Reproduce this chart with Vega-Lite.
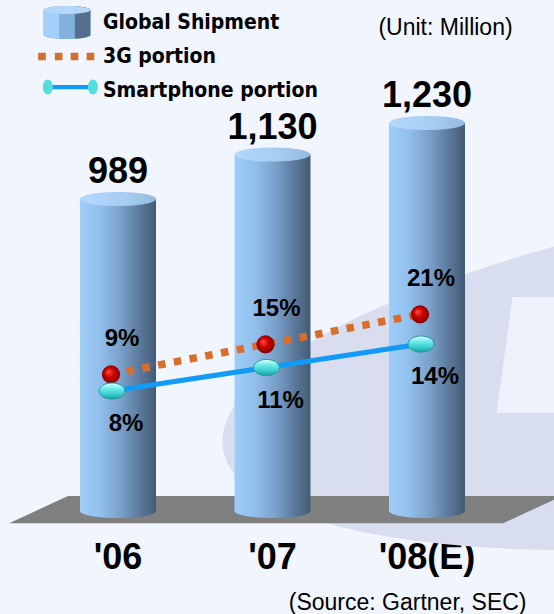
{
  "$schema": "https://vega.github.io/schema/vega-lite/v6.json",
  "width": 554,
  "height": 524,
  "autosize": {"type": "none"},
  "padding": {"left": 0, "top": 0, "right": 0, "bottom": 90},
  "background": "#f1f5fd",
  "config": {
    "view": {"stroke": null},
    "legend": {"orient": "none", "legendX": 50, "legendY": 5.5, "direction": "vertical", "title": null,
      "symbolSize": 1156, "symbolStrokeWidth": 0, "symbolOpacity": 1, "labelOffset": 19, "rowPadding": 0, "padding": 0, "labelLimit": 400,
      "labelFont": "DejaVu Sans Condensed", "labelFontSize": 21, "labelFontWeight": "bold", "labelColor": "#000000", "labelBaseline": "middle"}
  },
  "data": {"values": [
    {"year": "'06", "shipment": 989, "g3": 0.09, "sp": 0.08},
    {"year": "'07", "shipment": 1130, "g3": 0.15, "sp": 0.11},
    {"year": "'08(E)", "shipment": 1230, "g3": 0.21, "sp": 0.14}
  ]},
  "encoding": {
    "x": {"field": "year", "type": "nominal", "sort": null,
      "scale": {"type": "band", "domain": ["'06", "'07", "'08(E)"], "range": [40.75, 504.25], "paddingInner": 0.508, "paddingOuter": 0.254},
      "axis": {"orient": "bottom", "title": "(Source: Gartner, SEC)", "domain": false, "ticks": false, "grid": false,
        "labelFont": "Liberation Sans", "labelFontSize": 36, "labelFontWeight": "bold", "labelColor": "#000000",
        "labelPadding": 16, "labelAngle": 0, "labelOverlap": false,
        "titleFont": "Liberation Sans", "titleFontSize": 23, "titleFontWeight": "normal", "titleColor": "#000000",
        "titleX": 526, "titleY": 85, "titleAlign": "right", "titleBaseline": "alphabetic"}}
  },
  "resolve": {
    "scale": {"y": "independent", "fill": "independent", "shape": "independent"},
    "legend": {"fill": "independent", "shape": "independent"}
  },
  "layer": [
    {
      "transform": [{"filter": "datum.year === \"'08(E)\""}],
      "mark": {"type": "point", "filled": true, "opacity": 1, "color": "#d8ddef", "size": 4000000,
        "shape": "M1.0275,-0.2307 C1.0275,-0.1363 0.7517,-0.0236 0.4115,0.021 C0.0713,0.0656 -0.2045,0.0251 -0.2045,-0.0693 C-0.2045,-0.1637 0.0713,-0.2764 0.4115,-0.321 C0.7517,-0.3656 1.0275,-0.3251 1.0275,-0.2307 Z"},
      "encoding": {
        "y": {"datum": 0, "type": "quantitative", "scale": {"domain": [-41.2, 1620.2], "zero": false, "nice": false}, "axis": null}
      }
    },
    {
      "transform": [{"filter": "datum.year === \"'08(E)\""}],
      "mark": {"type": "point", "filled": true, "opacity": 1, "color": "#edf1fb", "size": 160000,
        "shape": "M0.4275,-1.07 L0.7,-1.07 L0.7,-0.49 L0.3475,-0.49 Z"},
      "encoding": {
        "y": {"datum": 0, "type": "quantitative", "scale": {"domain": [-41.2, 1620.2], "zero": false, "nice": false}, "axis": null}
      }
    },
    {
      "transform": [{"filter": "datum.year === \"'07\""}],
      "mark": {"type": "point", "filled": true, "opacity": 1, "color": "#808080", "size": 360000,
        "shape": "M-0.878,0.041 L-0.682,-0.05 L0.965,-0.05 L0.768,0.041 Z"},
      "encoding": {
        "y": {"datum": 0, "type": "quantitative", "scale": {"domain": [-41.2, 1620.2], "zero": false, "nice": false}, "axis": null}
      }
    },
    {
      "mark": {"type": "point", "filled": true, "opacity": 1, "size": 5776,
        "shape": "M-1,0 A1,0.184 0 1,0 1,0 A1,0.184 0 1,0 -1,0 Z",
        "color": {"gradient": "linear", "x1": 0, "y1": 0, "x2": 1, "y2": 0, "stops": [
          {"offset": 0, "color": "#9ecdf8"}, {"offset": 0.25, "color": "#93c1ee"}, {"offset": 0.55, "color": "#789fc8"}, {"offset": 0.8, "color": "#5a7799"}, {"offset": 1, "color": "#455b75"}]}},
      "encoding": {
        "y": {"datum": 0, "type": "quantitative", "scale": {"domain": [-41.2, 1620.2], "zero": false, "nice": false}, "axis": null}
      }
    },
    {
      "mark": {"type": "bar",
        "color": {"gradient": "linear", "x1": 0, "y1": 0, "x2": 1, "y2": 0, "stops": [
          {"offset": 0, "color": "#9ecdf8"}, {"offset": 0.25, "color": "#93c1ee"}, {"offset": 0.55, "color": "#789fc8"}, {"offset": 0.8, "color": "#5a7799"}, {"offset": 1, "color": "#455b75"}]}},
      "encoding": {
        "y": {"field": "shipment", "type": "quantitative", "scale": {"domain": [-41.2, 1620.2], "zero": false, "nice": false},
          "axis": {"orient": "right", "title": "(Unit: Million)", "labels": false, "ticks": false, "domain": false, "grid": false,
            "titleAngle": 0, "titleX": -109, "titleY": 27, "titleAlign": "center", "titleBaseline": "middle",
            "titleFont": "Liberation Sans", "titleFontSize": 23, "titleFontWeight": "normal", "titleColor": "#000000"}},
        "y2": {"datum": 0}
      }
    },
    {
      "mark": {"type": "point", "filled": true, "opacity": 1, "size": 5776,
        "shape": "M-1,0 A1,0.184 0 1,0 1,0 A1,0.184 0 1,0 -1,0 Z",
        "color": {"gradient": "linear", "x1": 0, "y1": 0, "x2": 1, "y2": 0, "stops": [
          {"offset": 0, "color": "#b4d9fc"}, {"offset": 0.6, "color": "#a6ccf2"}, {"offset": 1, "color": "#93badf"}]}},
      "encoding": {
        "y": {"field": "shipment", "type": "quantitative", "scale": {"domain": [-41.2, 1620.2], "zero": false, "nice": false}, "axis": null}
      }
    },
    {
      "mark": {"type": "text", "font": "Liberation Sans", "fontSize": 36, "fontWeight": "bold", "color": "#000000", "align": "center", "baseline": "alphabetic", "dy": -16},
      "encoding": {
        "y": {"field": "shipment", "type": "quantitative", "scale": {"domain": [-41.2, 1620.2], "zero": false, "nice": false}, "axis": null},
        "text": {"field": "shipment", "type": "quantitative", "format": ","}
      }
    },
    {
      "mark": {"type": "line", "color": "#d96e2c", "strokeWidth": 7.5, "strokeDash": [7.5, 8.5], "strokeCap": "butt", "xOffset": -7},
      "encoding": {
        "y": {"field": "g3", "type": "quantitative", "scale": {"domain": [-0.2094, 0.8386], "zero": false, "nice": false}, "axis": null}
      }
    },
    {
      "mark": {"type": "line", "color": "#129bf6", "strokeWidth": 5, "xOffset": -6},
      "encoding": {
        "y": {"field": "sp", "type": "quantitative", "scale": {"domain": [-0.0898, 0.5792], "zero": false, "nice": false}, "axis": null}
      }
    },
    {
      "mark": {"type": "point", "shape": "circle", "filled": true, "opacity": 1, "size": 330, "xOffset": -7,
        "color": {"gradient": "radial", "x1": 0.35, "y1": 0.35, "r1": 0.02, "x2": 0.5, "y2": 0.5, "r2": 0.55, "stops": [
          {"offset": 0, "color": "#ff4a3a"}, {"offset": 0.45, "color": "#cc0000"}, {"offset": 1, "color": "#7a0000"}]}},
      "encoding": {
        "y": {"field": "g3", "type": "quantitative", "scale": {"domain": [-0.2094, 0.8386], "zero": false, "nice": false}, "axis": null}
      }
    },
    {
      "mark": {"type": "point", "filled": true, "opacity": 1, "size": 676, "xOffset": -6,
        "shape": "M-1,0 A1,0.62 0 1,0 1,0 A1,0.62 0 1,0 -1,0 Z",
        "stroke": "#2a9a9a", "strokeWidth": 1,
        "color": {"gradient": "linear", "x1": 0, "y1": 0, "x2": 0, "y2": 1, "stops": [
          {"offset": 0, "color": "#dcffff"}, {"offset": 0.35, "color": "#6eeaea"}, {"offset": 0.7, "color": "#38cdcd"}, {"offset": 1, "color": "#1c9c9c"}]}},
      "encoding": {
        "y": {"field": "sp", "type": "quantitative", "scale": {"domain": [-0.0898, 0.5792], "zero": false, "nice": false}, "axis": null}
      }
    },
    {
      "mark": {"type": "text", "font": "Liberation Sans", "fontSize": 24, "fontWeight": "bold", "color": "#000000", "align": "center", "baseline": "middle", "dx": 4, "dy": -35},
      "encoding": {
        "y": {"field": "g3", "type": "quantitative", "scale": {"domain": [-0.2094, 0.8386], "zero": false, "nice": false}, "axis": null},
        "text": {"field": "g3", "type": "quantitative", "format": ".0%"}
      }
    },
    {
      "mark": {"type": "text", "font": "Liberation Sans", "fontSize": 24, "fontWeight": "bold", "color": "#000000", "align": "center", "baseline": "middle", "dx": 8, "dy": 33},
      "encoding": {
        "y": {"field": "sp", "type": "quantitative", "scale": {"domain": [-0.0898, 0.5792], "zero": false, "nice": false}, "axis": null},
        "text": {"field": "sp", "type": "quantitative", "format": ".0%"}
      }
    },
    {
      "data": {"values": [{"series": "Global Shipment"}, {"series": "3G portion"}, {"series": "Smartphone portion"}]},
      "mark": {"type": "point", "filled": true, "size": 0, "opacity": 1},
      "encoding": {
        "x": {"value": 0},
        "fill": {"field": "series", "type": "nominal",
          "scale": {"domain": ["Global Shipment", "3G portion", "Smartphone portion"], "range": ["#84b0dd", "#d96e2c", "#129bf6"]}},
        "shape": {"field": "series", "type": "nominal",
          "scale": {"domain": ["Global Shipment", "3G portion", "Smartphone portion"],
            "range": [
              "M-1.38,-0.735 A1.38,0.235 0 0,1 1.38,-0.735 L1.38,0.735 A1.38,0.235 0 0,1 -1.38,0.735 Z M0,-0.97 M0,0.97",
              "M-1.695,-0.215 h0.45 v0.43 h-0.45 Z M-0.715,-0.215 h0.45 v0.43 h-0.45 Z M0.215,-0.215 h0.45 v0.43 h-0.45 Z M1.155,-0.215 h0.45 v0.43 h-0.45 Z M0,-0.97 M0,0.97",
              "M-1.126,-0.33 L1.526,-0.33 L1.526,-0.07 L-1.126,-0.07 Z M0,-0.97 M0,0.97"
            ]}}
      }
    },
    {
      "data": {"values": [{"ovb": "b1"}, {"ovb": "b2"}, {"ovb": "b3"}]},
      "mark": {"type": "point", "filled": true, "size": 0, "opacity": 1},
      "encoding": {
        "x": {"value": 0},
        "fill": {"field": "ovb", "type": "nominal", "legend": {"labelExpr": "''"},
          "scale": {"domain": ["b1", "b2", "b3"], "range": ["#a3d0f9", "transparent", "transparent"]}},
        "shape": {"field": "ovb", "type": "nominal", "legend": {"labelExpr": "''"},
          "scale": {"domain": ["b1", "b2", "b3"],
            "range": [
              "M-1.38,-0.735 A1.38,0.235 0 0,1 -0.46,-0.9566 L-0.46,0.9566 A1.38,0.235 0 0,1 -1.38,0.735 Z M0,-0.97 M0,0.97",
              "M0,-0.97 M0,0.97",
              "M0,-0.97 M0,0.97"
            ]}}
      }
    },
    {
      "data": {"values": [{"ovc": "c1"}, {"ovc": "c2"}, {"ovc": "c3"}]},
      "mark": {"type": "point", "filled": true, "size": 0, "opacity": 1},
      "encoding": {
        "x": {"value": 0},
        "fill": {"field": "ovc", "type": "nominal", "legend": {"labelExpr": "''"},
          "scale": {"domain": ["c1", "c2", "c3"], "range": ["#55708f", "transparent", "transparent"]}},
        "shape": {"field": "ovc", "type": "nominal", "legend": {"labelExpr": "''"},
          "scale": {"domain": ["c1", "c2", "c3"],
            "range": [
              "M0.46,-0.9566 A1.38,0.235 0 0,1 1.38,-0.735 L1.38,0.735 A1.38,0.235 0 0,1 0.46,0.9566 Z M0,-0.97 M0,0.97",
              "M0,-0.97 M0,0.97",
              "M0,-0.97 M0,0.97"
            ]}}
      }
    },
    {
      "data": {"values": [{"ova": "a1"}, {"ova": "a2"}, {"ova": "a3"}]},
      "mark": {"type": "point", "filled": true, "size": 0, "opacity": 1},
      "encoding": {
        "x": {"value": 0},
        "fill": {"field": "ova", "type": "nominal", "legend": {"labelExpr": "''"},
          "scale": {"domain": ["a1", "a2", "a3"], "range": ["#b5d8fa", "transparent", "#55dede"]}},
        "shape": {"field": "ova", "type": "nominal", "legend": {"labelExpr": "''"},
          "scale": {"domain": ["a1", "a2", "a3"],
            "range": [
              "M-1.38,-0.735 A1.38,0.235 0 1,0 1.38,-0.735 A1.38,0.235 0 1,0 -1.38,-0.735 Z M0,-0.97 M0,0.97",
              "M0,-0.97 M0,0.97",
              "M-1.42,-0.2 A0.294,0.44 0 1,0 -0.832,-0.2 A0.294,0.44 0 1,0 -1.42,-0.2 Z M1.232,-0.2 A0.294,0.44 0 1,0 1.82,-0.2 A0.294,0.44 0 1,0 1.232,-0.2 Z M0,-0.97 M0,0.97"
            ]}}
      }
    }
  ]
}
